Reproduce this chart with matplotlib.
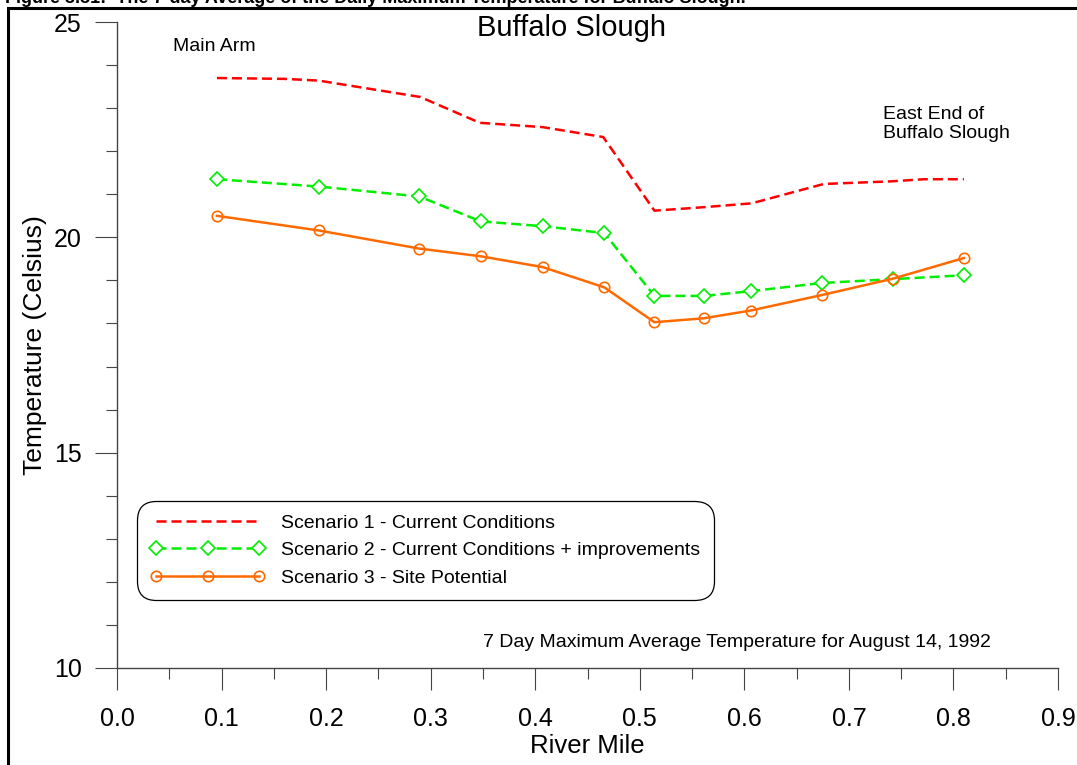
import matplotlib
matplotlib.use("Agg")
import matplotlib.pyplot as plt
from matplotlib.patches import Rectangle
from matplotlib.ticker import MultipleLocator

plt.rcParams['font.family'] = ['Liberation Sans', 'DejaVu Sans']

# river mile stations and 7-day max temperatures (deg C)
mile_s1 = [0.0956, 0.16, 0.193, 0.29, 0.347, 0.407, 0.465, 0.514, 0.561, 0.607, 0.676, 0.74, 0.772, 0.81]
temp_s1 = [23.70, 23.68, 23.64, 23.26, 22.66, 22.56, 22.33, 20.62, 20.70, 20.79, 21.24, 21.30, 21.35, 21.35]

mile = [0.0956, 0.193, 0.289, 0.348, 0.407, 0.466, 0.514, 0.561, 0.606, 0.674, 0.742, 0.810]
temp_s2 = [21.35, 21.18, 20.95, 20.37, 20.26, 20.10, 18.64, 18.64, 18.75, 18.94, 19.03, 19.12]
temp_s3 = [20.50, 20.16, 19.74, 19.56, 19.31, 18.84, 18.03, 18.12, 18.30, 18.66, 19.04, 19.52]

labels = ["Scenario 1 - Current Conditions",
          "Scenario 2 - Current Conditions + improvements",
          "Scenario 3 - Site Potential"]

fig = plt.figure(figsize=(10.77, 7.65), dpi=100)
ax = fig.add_axes([0.1086, 0.1268, 0.8738, 0.8444])

ax.plot(mile_s1, temp_s1, color='#ff0000', lw=1.8, dashes=(4, 2), label=labels[0])
ax.plot(mile, temp_s2, color='#00ee00', lw=1.8, dashes=(4, 2), marker='D', ms=7.5,
        mfc='white', mec='#00ee00', mew=1.2, label=labels[1])
ax.plot(mile, temp_s3, color='#ff6a00', lw=1.8, marker='o', ms=7.5,
        mfc='none', mec='#ff6a00', mew=1.2, label=labels[2])

ax.set_xlim(0, 0.9)
ax.set_ylim(10, 25)
ax.xaxis.set_major_locator(MultipleLocator(0.1))
ax.xaxis.set_minor_locator(MultipleLocator(0.05))
ax.yaxis.set_major_locator(MultipleLocator(5))
ax.yaxis.set_minor_locator(MultipleLocator(1))
ax.set_xticklabels([f"{v:.1f}" for v in ax.get_xticks()])

for s in ['top', 'right']:
    ax.spines[s].set_visible(False)
for s in ['left', 'bottom']:
    ax.spines[s].set_color('#444444')
    ax.spines[s].set_linewidth(1.0)

ax.tick_params(which='major', direction='out', length=16, width=0.8, color='#444444',
               labelsize=18)
ax.tick_params(axis='x', which='major', pad=12)
ax.tick_params(axis='y', which='major', pad=9.5)
ax.tick_params(which='minor', direction='out', length=8, width=0.8, color='#444444')

ax.set_xlabel("River Mile", fontsize=18.5, labelpad=2)
ax.set_ylabel("Temperature (Celsius)", fontsize=19, labelpad=5)
ax.text(0.4825, 0.99, "Buffalo Slough", transform=ax.transAxes, ha='center', va='center',
        fontsize=21)

ax.text(0.0536, 24.44, "Main Arm", fontsize=14, va='center')
ax.text(0.7326, 22.63, "East End of\nBuffalo Slough", fontsize=14, va='center',
        linespacing=1.15)
ax.text(0.35, 10.59, "7 Day Maximum Average Temperature for August 14, 1992",
        fontsize=14, va='center')

leg = ax.legend(loc='lower left', bbox_to_anchor=(0.0213, 0.105), borderaxespad=0,
                fontsize=14, numpoints=3, handlelength=5.9, handletextpad=0.85,
                borderpad=0.68, labelspacing=0.52, fancybox=True, framealpha=1)
leg.get_frame().set_edgecolor('black')
leg.get_frame().set_linewidth(0.9)
leg.get_frame().set_boxstyle('round,pad=0,rounding_size=1.0')

# outer page frame and caption
fig.patches.append(Rectangle((8 / 1077, -0.05), 1.2, 1 - 8 / 765 + 0.05,
                             transform=fig.transFigure, fill=False,
                             edgecolor='black', linewidth=2.2))
fig.text(5 / 1077, 1 - 3 / 765,
         "Figure 3.31:  The 7-day Average of the Daily Maximum Temperature for Buffalo Slough.",
         fontsize=13, fontweight='bold', va='baseline')

fig.savefig("out.png", dpi=100)
